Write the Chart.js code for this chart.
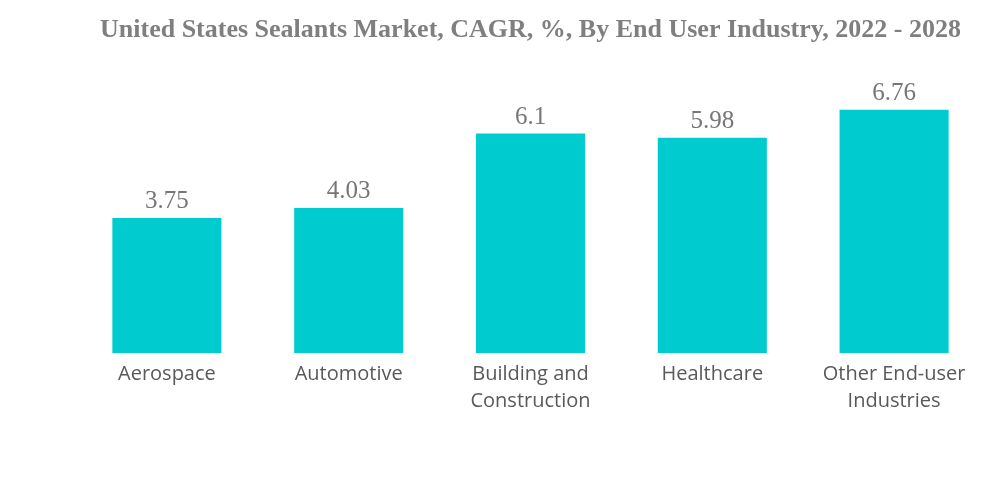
<!DOCTYPE html>
<html>
<head>
<meta charset="utf-8">
<script src="https://cdn.jsdelivr.net/npm/chart.js@4.4.1/dist/chart.umd.min.js"></script>
<style>
html,body{margin:0;padding:0;background:#fff;}
#wrap{width:1000px;height:483px;position:relative;}
</style>
</head>
<body>
<div id="wrap"><canvas id="c" width="1000" height="483"></canvas></div>
<script>
const categories = [["Aerospace"], ["Automotive"], ["Building and", "Construction"], ["Healthcare"], ["Other End-user", "Industries"]];
const cagrValues = [3.75, 4.03, 6.1, 5.98, 6.76];
const valueLabels = ["3.75", "4.03", "6.1", "5.98", "6.76"];
const titleText = "United States Sealants Market, CAGR, %, By End User Industry, 2022 - 2028";

const valueLabelPlugin = {
  id: 'valueLabels',
  afterDatasetsDraw(chart) {
    const ctx = chart.ctx;
    const meta = chart.getDatasetMeta(0);
    ctx.save();
    ctx.font = '25px "Liberation Serif", "Times New Roman", serif';
    ctx.fillStyle = '#767676';
    ctx.textAlign = 'center';
    ctx.textBaseline = 'alphabetic';
    meta.data.forEach((bar, i) => {
      ctx.fillText(valueLabels[i], bar.x, bar.y - 10);
    });
    ctx.restore();
  }
};

new Chart(document.getElementById('c'), {
  type: 'bar',
  data: {
    labels: categories,
    datasets: [{
      data: cagrValues,
      backgroundColor: '#00CCCF',
      borderWidth: 0,
      barPercentage: 0.6,
      categoryPercentage: 1.0
    }]
  },
  options: {
    responsive: false,
    animation: false,
    devicePixelRatio: 1,
    layout: { padding: { left: 76, right: 15, top: 0, bottom: 60 } },
    plugins: {
      legend: { display: false },
      tooltip: { enabled: false },
      title: {
        display: true,
        text: titleText,
        color: '#7f7f7f',
        font: { family: '"Liberation Serif", "Times New Roman", serif', size: 26, weight: 'bold', lineHeight: 1.2 },
        padding: { top: 15, bottom: 19 }
      }
    },
    scales: {
      x: {
        grid: { display: false, drawTicks: false },
        border: { display: false },
        ticks: {
          color: '#595959',
          font: { family: '"Open Sans", sans-serif', size: 20, lineHeight: 1.35 },
          padding: 8,
          maxRotation: 0,
          autoSkip: false
        }
      },
      y: {
        display: false,
        min: 0,
        max: 8
      }
    }
  },
  plugins: [valueLabelPlugin]
});
</script>
</body>
</html>
